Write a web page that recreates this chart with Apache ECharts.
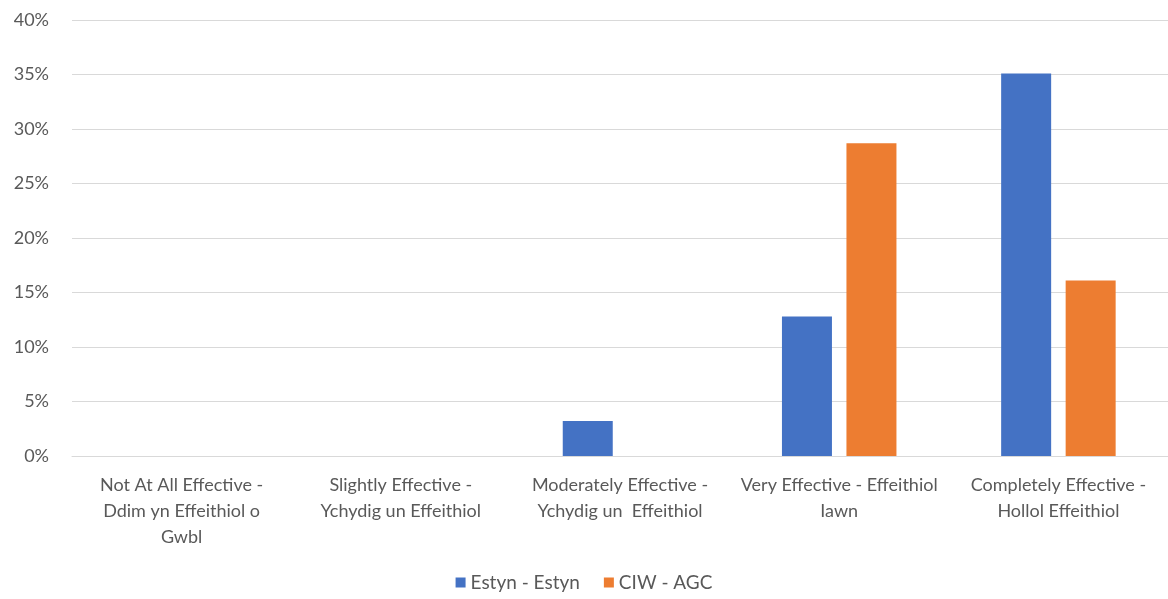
<!DOCTYPE html>
<html><head><meta charset="utf-8">
<script src="https://cdn.jsdelivr.net/npm/echarts@6/dist/echarts.min.js"></script>
<style>html,body{margin:0;padding:0;background:#fff}#c{width:1168px;height:599px}</style>
</head><body><div id="c"></div>
<script>
const categories = [
  "Not At All Effective -\nDdim yn Effeithiol o\nGwbl",
  "Slightly Effective -\nYchydig un Effeithiol",
  "Moderately Effective -\nYchydig un  Effeithiol",
  "Very Effective - Effeithiol\nIawn",
  "Completely Effective -\nHollol Effeithiol"
];
const seriesNames = ["Estyn - Estyn", "CIW - AGC"];
const estyn = [0, 0, 3.2, 12.8, 35.1];
const ciw = [0, 0, 0, 28.7, 16.1];
const yTicks = [0, 5, 10, 15, 20, 25, 30, 35, 40];

const chart = echarts.init(document.getElementById('c'));
const font = 'Lato, "Open Sans", sans-serif';
chart.setOption({
  animation: false,
  textStyle: {fontFamily: font},
  grid: {left: 72, right: 0, top: 20, bottom: 143, containLabel: false},
  legend: {
    bottom: 2, left: 'center',
    itemWidth: 10, itemHeight: 10, icon: 'rect', itemGap: 24,
    textStyle: {color: '#595959', fontSize: 19, fontFamily: font},
    data: seriesNames
  },
  xAxis: {
    type: 'category', data: categories,
    axisLine: {lineStyle: {color: '#D9D9D9', width: 1}},
    axisTick: {show: false},
    axisLabel: {color: '#595959', fontSize: 18, lineHeight: 26, margin: 16, interval: 0, fontFamily: font}
  },
  yAxis: {
    type: 'value', min: yTicks[0], max: yTicks[yTicks.length - 1], interval: 5,
    axisLine: {show: false}, axisTick: {show: false},
    splitLine: {lineStyle: {color: '#D9D9D9', width: 1}},
    axisLabel: {color: '#595959', fontSize: 18, margin: 23, formatter: v => v + '%', fontFamily: font}
  },
  series: [
    {name: seriesNames[0], type: 'bar', data: estyn, barWidth: 50, barGap: '29%',
     itemStyle: {color: '#4472C4'}},
    {name: seriesNames[1], type: 'bar', data: ciw, barWidth: 50,
     itemStyle: {color: '#ED7D31'}}
  ]
});
</script></body></html>
